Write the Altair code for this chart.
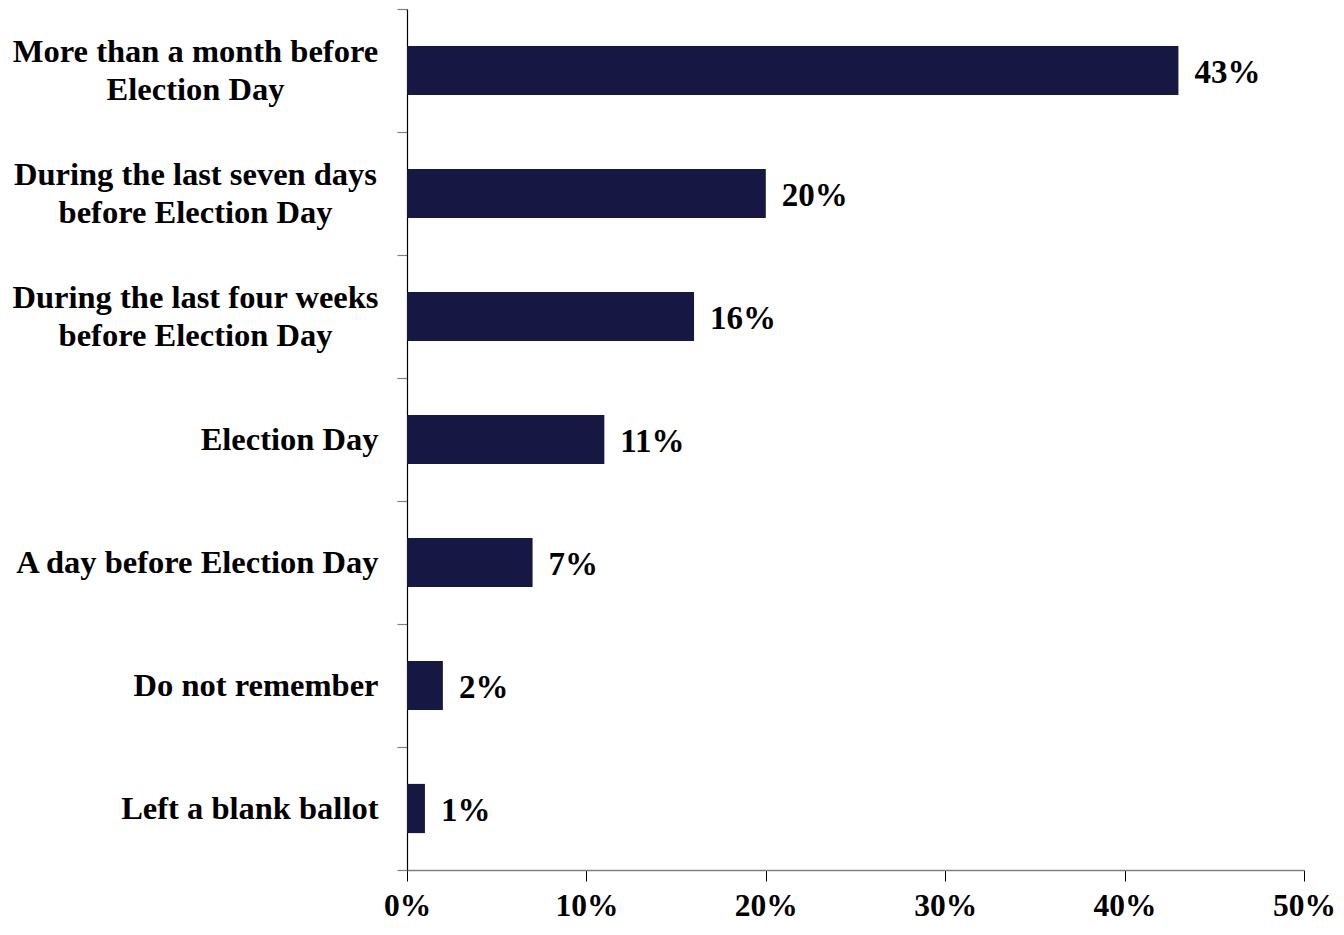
import altair as alt
import pandas as pd

categories = [
    "More than a month before|Election Day",
    "During the last seven days|before Election Day",
    "During the last four weeks|before Election Day",
    "Election Day",
    "A day before Election Day",
    "Do not remember",
    "Left a blank ballot",
]
values = [43, 20, 16, 11, 7, 2, 1]
x_ticks = [0, 10, 20, 30, 40, 50]

df = pd.DataFrame({
    "cat": categories,
    "value": values,
    "label": [f"{v}%" for v in values],
})

FONT = "Liberation Serif"
BAR = "#171743"

y_scale = alt.Scale(paddingInner=0, paddingOuter=0)
x_scale = alt.Scale(domain=[0, 50], nice=False)

axis_single = alt.Axis(
    title=None,
    orient="left",
    labelExpr="indexof(datum.label, '|') >= 0 ? '' : datum.label",
    labelFont=FONT, labelFontSize=32.5, labelFontWeight="bold", labelColor="#000000",
    labelAlign="right", labelBaseline="middle", labelPadding=19, labelLimit=0,
    domainColor="#000000", domainWidth=1.2,
    tickColor="#808080", tickSize=10, tickWidth=1.2, tickBand="extent",
)

axis_multi = alt.Axis(
    title=None,
    orient="left",
    labelExpr="indexof(datum.label, '|') >= 0 ? split(datum.label, '|') : ''",
    labelFont=FONT, labelFontSize=32.5, labelFontWeight="bold", labelColor="#000000",
    labelAlign="center", labelBaseline="middle", labelPadding=212, labelLimit=0,
    labelLineHeight=38, labelOffset=-19,
    domain=False, ticks=False,
)

x_axis = alt.Axis(
    title=None,
    values=x_ticks,
    labelExpr="datum.value + '%'",
    labelFont=FONT, labelFontSize=31.5, labelFontWeight="bold", labelColor="#000000",
    labelPadding=9, labelFlush=False,
    domainColor="#808080", domainWidth=1.5,
    tickColor="#000000", tickSize=11, tickWidth=1,
    grid=False,
)

base = alt.Chart(df)

bars = base.mark_bar(color=BAR, height=alt.RelativeBandSize(0.4)).encode(
    x=alt.X("value:Q", scale=x_scale, axis=x_axis),
    y=alt.Y("cat:N", sort=categories, scale=y_scale, axis=axis_single),
)

text = base.mark_text(
    align="left", baseline="middle", dx=16, dy=2,
    font=FONT, fontSize=33, fontWeight="bold", color="#000000",
).encode(
    x=alt.X("value:Q", scale=x_scale, axis=x_axis),
    y=alt.Y("cat:N", sort=categories, scale=y_scale, axis=axis_multi),
    text="label:N",
)

chart = alt.layer(bars, text).resolve_axis(y="independent").properties(
    width=897,
    height=861,
    background="#ffffff",
    autosize=alt.AutoSizeParams(type="none"),
    padding={"left": 399, "top": 1, "right": 32, "bottom": 57},
).configure_view(strokeWidth=0, stroke="transparent")

chart.save("out.html", embed_options={"renderer": "svg", "actions": False})
